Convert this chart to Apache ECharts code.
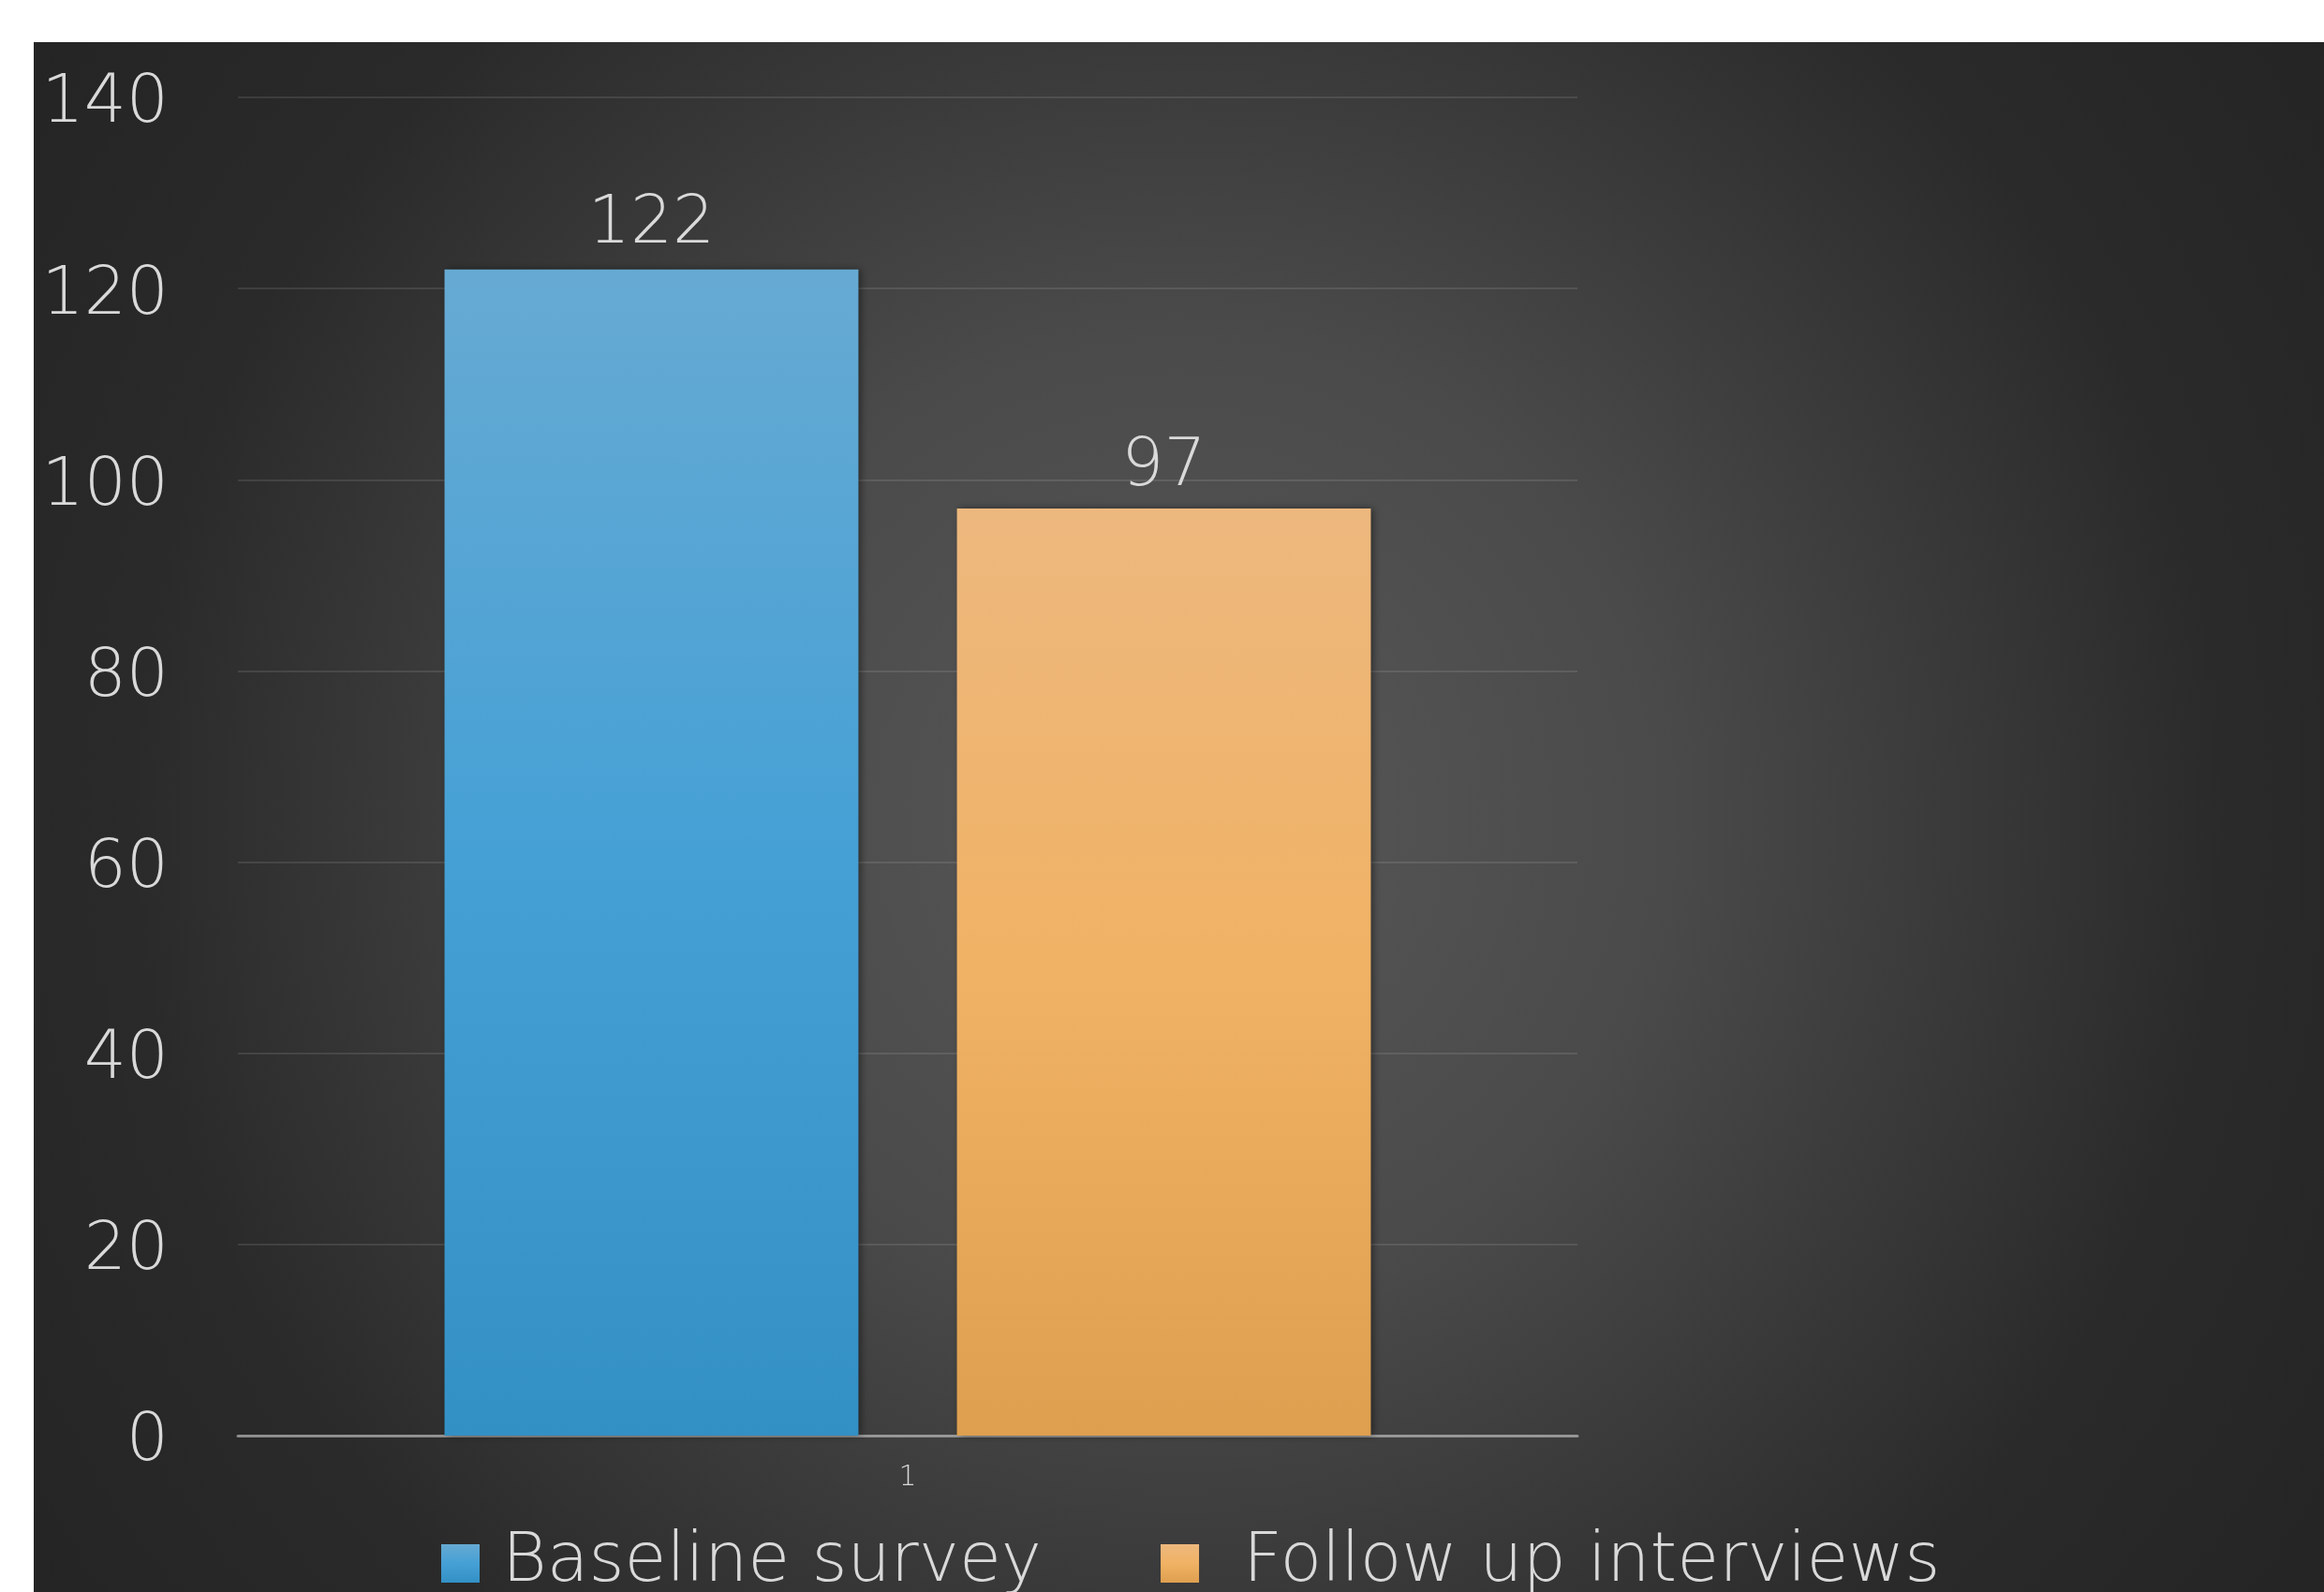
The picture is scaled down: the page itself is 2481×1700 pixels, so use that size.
<!DOCTYPE html>
<html>
<head>
<meta charset="utf-8">
<script src="https://cdn.jsdelivr.net/npm/echarts@6/dist/echarts.min.js"></script>
<style>
html,body{margin:0;padding:0;background:#ffffff;}
#chart{width:2481px;height:1700px;}
</style>
</head>
<body>
<div id="chart"></div>
<script>
var categories = ['1'];
var seriesNames = ['Baseline survey', 'Follow up interviews'];
var baselineValues = [122];
var followUpValues = [97];
var yTicks = [0, 20, 40, 60, 80, 100, 120, 140];

var chart = echarts.init(document.getElementById('chart'), null, {renderer: 'canvas'});
var textColor = '#D9D9D9';
var fontFam = '"DejaVu Sans", "Open Sans", sans-serif';

function lg(stops) {
  return new echarts.graphic.LinearGradient(0, 0, 0, 1, stops);
}
var blueGrad = lg([{offset: 0, color: '#66AAD3'}, {offset: 0.5, color: '#45A0D5'}, {offset: 1, color: '#3390C5'}]);
var orangeGrad = lg([{offset: 0, color: '#EDB87E'}, {offset: 0.5, color: '#F0B264'}, {offset: 1, color: '#DE9F4F'}]);

var option = {
  backgroundColor: '#ffffff',
  animation: false,
  graphic: [{
    type: 'rect',
    left: 36, top: 45, z: -10,
    shape: {width: 2445, height: 1655},
    style: {
      fill: new echarts.graphic.RadialGradient(0.5, 0.5, 0.9, [
        {offset: 0, color: '#585858'},
        {offset: 0.35, color: '#4a4a4a'},
        {offset: 0.75, color: '#2a2a2a'},
        {offset: 1, color: '#242424'}
      ])
    },
    silent: true
  }],
  grid: {left: 254, right: 797, top: 104, bottom: 167, containLabel: false},
  legend: {
    data: [
      {name: seriesNames[0], textStyle: {padding: [0, 0, 0, 19]}},
      {name: seriesNames[1], textStyle: {padding: [0, 0, 0, 42]}}
    ],
    left: 466,
    top: 1628,
    itemWidth: 41,
    itemHeight: 41,
    itemGap: 127,
    icon: 'rect',
    textStyle: {color: textColor, fontSize: 73, fontWeight: 300, fontFamily: fontFam}
  },
  xAxis: {
    type: 'category',
    data: categories,
    axisLine: {show: true, lineStyle: {color: 'rgba(200,200,200,0.6)', width: 3}},
    axisTick: {show: false},
    axisLabel: {color: textColor, fontSize: 30, fontWeight: 300, fontFamily: fontFam, margin: 30}
  },
  yAxis: {
    type: 'value',
    min: yTicks[0],
    max: yTicks[yTicks.length - 1],
    interval: yTicks[1] - yTicks[0],
    axisLine: {show: false},
    axisTick: {show: false},
    splitLine: {lineStyle: {color: 'rgba(255,255,255,0.1)', width: 2}},
    axisLabel: {
      margin: 74,
      formatter: function (v) { return '{t|' + v + '}'; },
      rich: {t: {color: textColor, fontSize: 71, fontWeight: 300, fontFamily: fontFam, padding: [16, 0, 0, 0]}}
    }
  },
  series: [
    {
      name: seriesNames[0],
      type: 'bar',
      data: baselineValues,
      barWidth: '30.9%',
      barGap: '23.8%',
      itemStyle: {color: blueGrad, shadowColor: 'rgba(0,0,0,0.45)', shadowBlur: 8, shadowOffsetX: 3},
      label: {show: true, position: 'top', distance: 12, color: textColor, fontSize: 71, fontWeight: 300, fontFamily: fontFam}
    },
    {
      name: seriesNames[1],
      type: 'bar',
      data: followUpValues,
      barWidth: '30.9%',
      itemStyle: {color: orangeGrad, shadowColor: 'rgba(0,0,0,0.45)', shadowBlur: 8, shadowOffsetX: 3},
      label: {show: true, position: 'top', distance: 8, color: textColor, fontSize: 71, fontWeight: 300, fontFamily: fontFam}
    }
  ]
};
chart.setOption(option);
</script>
</body>
</html>
